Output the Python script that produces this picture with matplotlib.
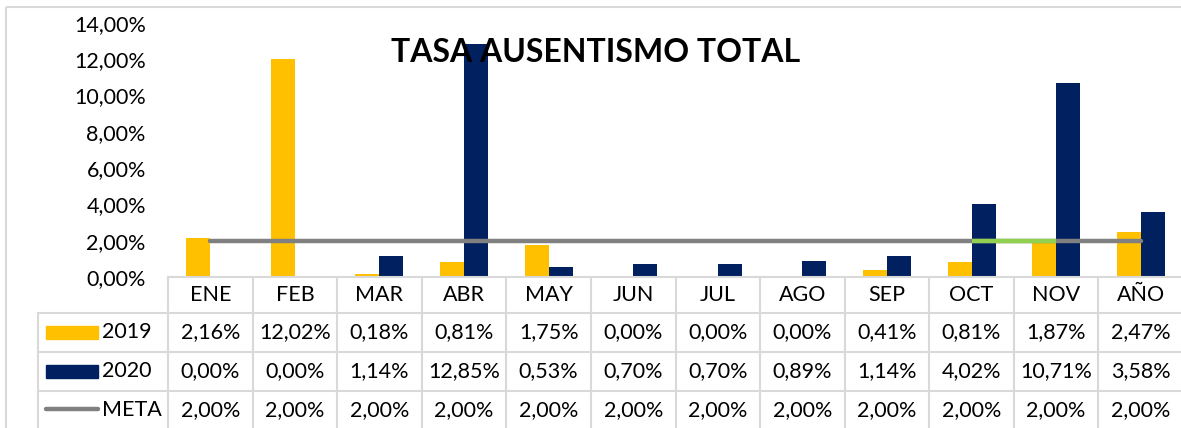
import matplotlib.pyplot as plt
import matplotlib.transforms as mtransforms
from matplotlib.patches import Rectangle
import numpy as np

# datos
meses = ['ENE', 'FEB', 'MAR', 'ABR', 'MAY', 'JUN', 'JUL', 'AGO', 'SEP', 'OCT', 'NOV', 'AÑO']
tasa_2019 = [2.16, 12.02, 0.18, 0.81, 1.75, 0.00, 0.00, 0.00, 0.41, 0.81, 1.87, 2.47]
tasa_2020 = [0.00, 0.00, 1.14, 12.85, 0.53, 0.70, 0.70, 0.89, 1.14, 4.02, 10.71, 3.58]
meta = [2.00] * 12
yticks = [0, 2, 4, 6, 8, 10, 12, 14]

amarillo = '#FFC000'
azul = '#002060'
gris = '#808080'
verde = '#92D050'
borde = '#D9D9D9'
fs = 15.5

plt.rcParams['font.family'] = ['Lato', 'DejaVu Sans']

W, H = 1181, 428
fig = plt.figure(figsize=(W / 100, H / 100), dpi=100)

# capa en pixeles para la tabla y el marco
capa = fig.add_axes([0, 0, 1, 1])
capa.set_xlim(0, W)
capa.set_ylim(H, 0)
capa.axis('off')

# area del grafico
x0, x1, y_cero, y_top = 168, 1183, 277, 23
ax = fig.add_axes([x0 / W, (H - y_cero) / H, (x1 - x0) / W, (y_cero - y_top) / H])
x = np.arange(len(meses))
ancho = 0.284
ax.bar(x - ancho / 2, tasa_2019, ancho, color=amarillo, zorder=2)
ax.bar(x + ancho / 2, tasa_2020, ancho, color=azul, zorder=2)
ax.plot(x, meta, color=gris, lw=3.2, solid_capstyle='round', zorder=3)
ax.plot(x[9:11], meta[9:11], color=verde, lw=3.2, solid_capstyle='butt', zorder=4)

ax.set_xlim(-0.5, len(meses) - 0.5)
ax.set_ylim(0, 14)
ax.set_yticks(yticks)
ax.set_yticklabels([f'{v:.2f}%'.replace('.', ',') for v in yticks], fontsize=fs)
ax.tick_params(axis='y', length=0, pad=16)
ax.set_xticks([])
for s in ['top', 'right', 'left']:
    ax.spines[s].set_visible(False)
ax.spines['bottom'].set_color(borde)
ax.spines['bottom'].set_linewidth(1.5)
ax.patch.set_alpha(0)

ax.text(0.421, 0.885, 'TASA AUSENTISMO TOTAL', transform=ax.transAxes,
        ha='center', va='center', fontsize=23, fontweight='bold', zorder=5)

# marco exterior
capa.add_patch(Rectangle((6, 7), W, H, fill=False, ec=borde, lw=1.5))

# tabla de datos
trans = mtransforms.blended_transform_factory(ax.transData, capa.transData)
filas_y = [313, 352, 391, 430]
for xb in np.arange(len(meses) + 1) - 0.5:
    capa.plot([xb, xb], [y_cero, H], color=borde, lw=1.5, transform=trans)
capa.plot([38, 38], [313, H], color=borde, lw=1.5)
for yy in filas_y[:3]:
    capa.plot([38, W], [yy, yy], color=borde, lw=1.5)

for i, m in enumerate(meses):
    capa.text(i, 295, m, transform=trans, ha='center', va='center', fontsize=fs)

series = [tasa_2019, tasa_2020, meta]
centros = [332, 371, 410]
for serie, yc in zip(series, centros):
    for i, v in enumerate(serie):
        capa.text(i, yc, f'{v:.2f}%'.replace('.', ','), transform=trans,
                  ha='center', va='center', fontsize=fs)

# claves de leyenda
capa.add_patch(Rectangle((46, 326), 52, 13, color=amarillo))
capa.add_patch(Rectangle((46, 365), 52, 13, color=azul))
capa.plot([46, 98], [409, 409], color=gris, lw=3.2, solid_capstyle='round')
for nombre, yc in zip(['2019', '2020', 'META'], centros):
    capa.text(102, yc, nombre, ha='left', va='center', fontsize=fs)

fig.savefig('out.png', dpi=100)
